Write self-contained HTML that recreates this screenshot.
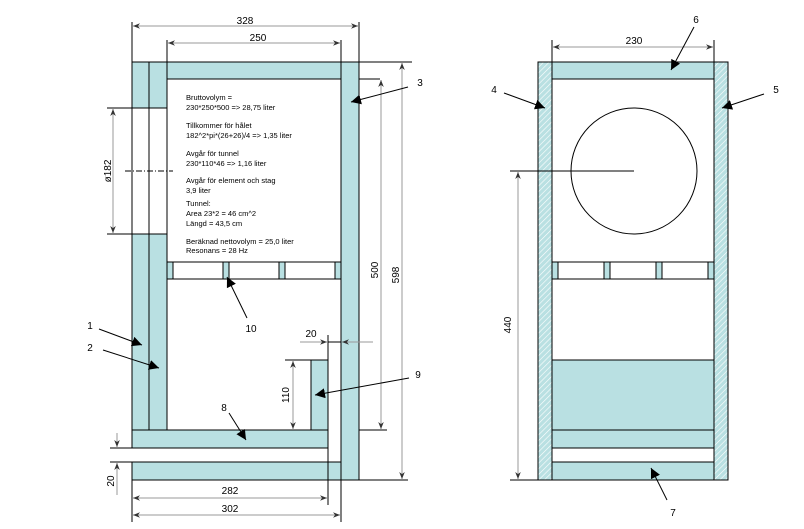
<!DOCTYPE html>
<html><head><meta charset="utf-8"><style>
html,body{margin:0;padding:0;background:#fff;}
svg{display:block;}
text{font-family:"Liberation Sans",Arial,sans-serif;font-size:10px;fill:#000;}
.n{font-size:7.5px;}
</style></head><body>
<svg width="804" height="529" viewBox="0 0 804 529" xmlns="http://www.w3.org/2000/svg">
<defs>
<pattern id="h" width="4" height="4" patternUnits="userSpaceOnUse" patternTransform="rotate(45)">
<rect width="4" height="4" fill="#b9e0e2"/><line x1="0" y1="0" x2="0" y2="4" stroke="#fff" stroke-width="1.2"/>
</pattern>
<marker id="a" viewBox="0 0 10 10" refX="10" refY="5" markerWidth="10" markerHeight="10" markerUnits="userSpaceOnUse" orient="auto"><path d="M0,0L10,5L0,10z" fill="#000"/></marker>
<marker id="d" viewBox="0 0 10 10" refX="10" refY="5" markerWidth="7" markerHeight="7" markerUnits="userSpaceOnUse" orient="auto"><path d="M0,1L10,5L0,9L3,5z" fill="#333"/></marker>
</defs>
<g stroke="#000" stroke-width="1" fill="#b9e0e2">
<!-- LEFT VIEW -->
<rect x="132" y="62" width="17" height="46"/>
<rect x="149" y="62" width="18" height="46"/>
<rect x="132" y="234" width="17" height="196"/>
<rect x="149" y="234" width="18" height="196"/>
<line x1="132" y1="108" x2="132" y2="234"/>
<line x1="149" y1="108" x2="149" y2="234"/>
<line x1="167" y1="108" x2="167" y2="234"/>
<rect x="167" y="62" width="174" height="17"/>
<rect x="341" y="62" width="18" height="418"/>
<rect x="167" y="262" width="174" height="17" fill="#fff"/>
<rect x="167" y="262" width="6" height="17"/>
<rect x="223" y="262" width="6" height="17"/>
<rect x="279" y="262" width="6" height="17"/>
<rect x="335" y="262" width="6" height="17"/>
<rect x="132" y="430" width="196" height="18"/>
<rect x="132" y="462" width="209" height="18"/>
<rect x="311" y="360" width="17" height="70"/>
<line x1="328" y1="335" x2="328" y2="505"/>
<line x1="328" y1="342" x2="341" y2="342"/>
<line x1="341" y1="480" x2="341" y2="522"/>
<line x1="132" y1="480" x2="132" y2="522"/>
<line x1="132" y1="22" x2="132" y2="62"/>
<line x1="359" y1="22" x2="359" y2="62"/>
<line x1="167" y1="40" x2="167" y2="62"/>
<line x1="341" y1="40" x2="341" y2="62"/>
<line x1="359" y1="62" x2="412" y2="62"/>
<line x1="359" y1="79" x2="380" y2="79"/>
<line x1="359" y1="430" x2="387" y2="430"/>
<line x1="359" y1="480" x2="408" y2="480"/>
<line x1="107" y1="108" x2="167" y2="108"/>
<line x1="107" y1="234" x2="167" y2="234"/>
<line x1="110" y1="448" x2="132" y2="448"/>
<line x1="110" y1="462" x2="132" y2="462"/>
<line x1="285" y1="360" x2="311" y2="360"/>
<line x1="125" y1="171" x2="173" y2="171" stroke-dasharray="6,2,1,2"/>
<!-- RIGHT VIEW -->
<rect x="538" y="62" width="14" height="418" fill="url(#h)"/>
<rect x="714" y="62" width="14" height="418" fill="url(#h)"/>
<rect x="552" y="62" width="162" height="17"/>
<rect x="552" y="79" width="162" height="401" fill="none"/>
<circle cx="634" cy="171" r="63" fill="none"/>
<line x1="510" y1="171" x2="634" y2="171"/>
<rect x="552" y="262" width="162" height="17" fill="#fff"/>
<rect x="552" y="262" width="6" height="17"/>
<rect x="604" y="262" width="6" height="17"/>
<rect x="656" y="262" width="6" height="17"/>
<rect x="708" y="262" width="6" height="17"/>
<rect x="552" y="360" width="162" height="70"/>
<rect x="552" y="430" width="162" height="18"/>
<rect x="552" y="462" width="162" height="18"/>
<line x1="552" y1="40" x2="552" y2="62"/>
<line x1="714" y1="40" x2="714" y2="62"/>
<line x1="510" y1="480" x2="538" y2="480"/>
</g>
<!-- dimension lines -->
<g stroke="#999" stroke-width="1" fill="none">
<line x1="245" y1="26" x2="133" y2="26" marker-end="url(#d)"/>
<line x1="245" y1="26" x2="358" y2="26" marker-end="url(#d)"/>
<line x1="254" y1="43" x2="168" y2="43" marker-end="url(#d)"/>
<line x1="254" y1="43" x2="340" y2="43" marker-end="url(#d)"/>
<line x1="113" y1="171" x2="113" y2="109" marker-end="url(#d)"/>
<line x1="113" y1="171" x2="113" y2="233" marker-end="url(#d)"/>
<line x1="381" y1="255" x2="381" y2="80" marker-end="url(#d)"/>
<line x1="381" y1="255" x2="381" y2="429" marker-end="url(#d)"/>
<line x1="402" y1="270" x2="402" y2="63" marker-end="url(#d)"/>
<line x1="402" y1="270" x2="402" y2="479" marker-end="url(#d)"/>
<line x1="293" y1="395" x2="293" y2="361" marker-end="url(#d)"/>
<line x1="293" y1="395" x2="293" y2="429" marker-end="url(#d)"/>
<line x1="300" y1="342" x2="327" y2="342" marker-end="url(#d)"/>
<line x1="373" y1="342" x2="342" y2="342" marker-end="url(#d)"/>
<line x1="117" y1="433" x2="117" y2="447" marker-end="url(#d)"/>
<line x1="117" y1="495" x2="117" y2="463" marker-end="url(#d)"/>
<line x1="230" y1="498" x2="133" y2="498" marker-end="url(#d)"/>
<line x1="230" y1="498" x2="327" y2="498" marker-end="url(#d)"/>
<line x1="236" y1="515" x2="133" y2="515" marker-end="url(#d)"/>
<line x1="236" y1="515" x2="340" y2="515" marker-end="url(#d)"/>
<line x1="633" y1="47" x2="553" y2="47" marker-end="url(#d)"/>
<line x1="633" y1="47" x2="713" y2="47" marker-end="url(#d)"/>
<line x1="518" y1="325" x2="518" y2="172" marker-end="url(#d)"/>
<line x1="518" y1="325" x2="518" y2="479" marker-end="url(#d)"/>
</g>
<!-- label arrows -->
<g stroke="#000" stroke-width="1" fill="none">
<line x1="408" y1="87" x2="351" y2="102" marker-end="url(#a)"/>
<line x1="99" y1="329" x2="142" y2="345" marker-end="url(#a)"/>
<line x1="103" y1="350" x2="159" y2="368" marker-end="url(#a)"/>
<line x1="247" y1="318" x2="227" y2="277" marker-end="url(#a)"/>
<line x1="409" y1="378" x2="315" y2="395" marker-end="url(#a)"/>
<line x1="229" y1="413" x2="246" y2="440" marker-end="url(#a)"/>
<line x1="694" y1="27" x2="671" y2="70" marker-end="url(#a)"/>
<line x1="504" y1="93" x2="545" y2="108" marker-end="url(#a)"/>
<line x1="764" y1="94" x2="722" y2="108" marker-end="url(#a)"/>
<line x1="667" y1="500" x2="651" y2="468" marker-end="url(#a)"/>
</g>
<!-- texts -->
<g text-anchor="middle">
<text x="245" y="24">328</text>
<text x="258" y="41">250</text>
<text x="311" y="337">20</text>
<text x="230" y="494">282</text>
<text x="230" y="512">302</text>
<text x="634" y="44">230</text>
<text x="420" y="86">3</text>
<text x="90" y="329">1</text>
<text x="90" y="351">2</text>
<text x="251" y="332">10</text>
<text x="418" y="378">9</text>
<text x="224" y="411">8</text>
<text x="696" y="23">6</text>
<text x="494" y="93">4</text>
<text x="776" y="93">5</text>
<text x="673" y="516">7</text>
<text transform="translate(111,171) rotate(-90)">ø182</text>
<text transform="translate(378,270) rotate(-90)">500</text>
<text transform="translate(399,275) rotate(-90)">598</text>
<text transform="translate(289,395) rotate(-90)">110</text>
<text transform="translate(114,481) rotate(-90)">20</text>
<text transform="translate(511,325) rotate(-90)">440</text>
</g>
<g class="n">
<text class="n" x="186" y="100">Bruttovolym =</text>
<text class="n" x="186" y="110">230*250*500 =&gt; 28,75 liter</text>
<text class="n" x="186" y="128">Tillkommer för hålet</text>
<text class="n" x="186" y="138">182^2*pi*(26+26)/4 =&gt; 1,35 liter</text>
<text class="n" x="186" y="156">Avgår för tunnel</text>
<text class="n" x="186" y="166">230*110*46 =&gt; 1,16 liter</text>
<text class="n" x="186" y="183">Avgår för element och stag</text>
<text class="n" x="186" y="193">3,9 liter</text>
<text class="n" x="186" y="206">Tunnel:</text>
<text class="n" x="186" y="216">Area 23*2 = 46 cm^2</text>
<text class="n" x="186" y="226">Längd = 43,5 cm</text>
<text class="n" x="186" y="244">Beräknad nettovolym = 25,0 liter</text>
<text class="n" x="186" y="253">Resonans = 28 Hz</text>
</g>
</svg>
</body></html>
